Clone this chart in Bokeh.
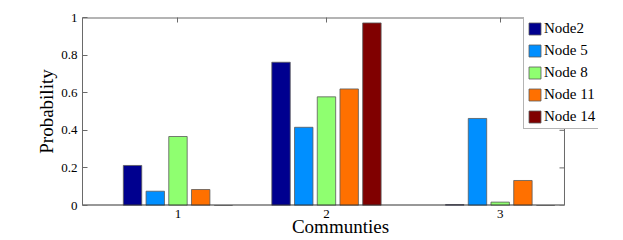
from bokeh.plotting import figure
from bokeh.models import (ColumnDataSource, Range1d, FixedTicker, LinearAxis,
                          Legend, LegendItem, CustomJSTickFormatter)
from bokeh.transform import dodge
from bokeh.embed import file_html
from bokeh.resources import INLINE

# ---- data ----
communities = ["1", "2", "3"]
community_x = [1.0, 2.0, 3.17]
series_names = ["Node2", "Node 5", "Node 8", "Node 11", "Node 14"]
node2 = [0.213, 0.762, 0.005]
node5 = [0.076, 0.416, 0.463]
node8 = [0.367, 0.578, 0.018]
node11 = [0.085, 0.620, 0.133]
node14 = [0.0, 0.971, 0.0]
y_ticks = [0, 0.2, 0.4, 0.6, 0.8, 1.0]
y_tick_labels = ["0", "0.2", "0.4", "0.6", "0.8", "1"]

colors = ["#00008F", "#008FFF", "#8FFF70", "#FF7000", "#800000"]
series_cols = ["node2", "node5", "node8", "node11", "node14"]

src = ColumnDataSource(dict(x=community_x, node2=node2, node5=node5, node8=node8,
                            node11=node11, node14=node14))

# axes box spans X0..XBOX; the frame is a little wider so the legend can stick out
X0, XBOX, X1 = 0.357, 3.603, 3.832
PX = 148.5  # pixels per x unit (used only for tick length)

p = figure(width=623, height=240, x_range=Range1d(X0, X1), y_range=Range1d(0, 1),
           output_backend="svg", toolbar_location=None,
           min_border_left=82, min_border_right=25, min_border_top=17, min_border_bottom=35)
p.grid.visible = False
p.outline_line_color = None
p.background_fill_color = "white"
p.border_fill_color = "white"

FONT = "Liberation Serif"
TICK_COLOR = "#6a6a6a"
BOX_COLOR = "#6a6a6a"

xticker = FixedTicker(ticks=community_x)
yticker = FixedTicker(ticks=y_ticks)
xfmt = CustomJSTickFormatter(args=dict(labels=communities), code="return labels[index];")
yfmt = CustomJSTickFormatter(args=dict(labels=y_tick_labels), code="return labels[index];")

xa = p.xaxis[0]
xa.ticker = xticker
xa.formatter = xfmt
xa.major_tick_in = 0
xa.major_tick_out = 0
xa.major_tick_line_color = None
xa.minor_tick_line_color = None
xa.axis_line_color = None
xa.major_label_standoff = 4
xa.major_label_text_font = FONT
xa.major_label_text_font_size = "13px"
xa.major_label_text_color = "black"
xa.axis_label = "Communties"
xa.axis_label_text_font = FONT
xa.axis_label_text_font_size = "19px"
xa.axis_label_text_font_style = "normal"
xa.axis_label_text_color = "black"
xa.axis_label_standoff = -5

ya = p.yaxis[0]
ya.ticker = yticker
ya.formatter = yfmt
ya.major_tick_in = 5
ya.major_tick_out = 0
ya.minor_tick_line_color = None
ya.major_tick_line_color = TICK_COLOR
ya.axis_line_color = BOX_COLOR
ya.major_label_standoff = 5
ya.major_label_text_font = FONT
ya.major_label_text_font_size = "13px"
ya.major_label_text_color = "black"
ya.axis_label = "Probability"
ya.axis_label_text_font = FONT
ya.axis_label_text_font_size = "19px"
ya.axis_label_text_font_style = "normal"
ya.axis_label_text_color = "black"
ya.axis_label_standoff = 1

top_axis = LinearAxis(ticker=xticker, major_label_text_font_size="0px",
                      major_label_text_color=None, major_label_standoff=0,
                      major_tick_in=5, major_tick_out=0, minor_tick_line_color=None,
                      major_tick_line_color=TICK_COLOR, axis_line_color=None)
p.add_layout(top_axis, "above")

offsets = [-0.306, -0.153, 0.0, 0.153, 0.306]
items = []
for j, (name, col, color) in enumerate(zip(series_names, series_cols, colors)):
    r = p.vbar(x=dodge("x", offsets[j], range=p.x_range), top=col, width=0.124, bottom=0,
               source=src, fill_color=color, line_color="#5a5a5a", line_width=0.8)
    items.append(LegendItem(label=name, renderers=[r]))

# box: top, bottom and right borders plus right-side inner ticks
p.segment(x0=[X0, X0], y0=[1, 0], x1=[XBOX, XBOX], y1=[1, 0],
          line_color=[BOX_COLOR, "#333333"], line_width=2)
p.segment(x0=[XBOX], y0=[0], x1=[XBOX], y1=[1], line_color=BOX_COLOR, line_width=1)
p.segment(x0=[XBOX - 5 / PX] * len(y_ticks), y0=y_ticks, x1=[XBOX] * len(y_ticks),
          y1=y_ticks, line_color=TICK_COLOR, line_width=1)

legend = Legend(items=items, location=(441, 76), padding=3, spacing=5, margin=0,
                glyph_width=15, glyph_height=15, label_height=15, label_standoff=2,
                label_text_font=FONT, label_text_font_size="15px", label_text_color="black",
                border_line_color=BOX_COLOR, border_line_width=1,
                background_fill_color="white", background_fill_alpha=1.0)
p.add_layout(legend)

open("out.html", "w").write(file_html(p, INLINE))
